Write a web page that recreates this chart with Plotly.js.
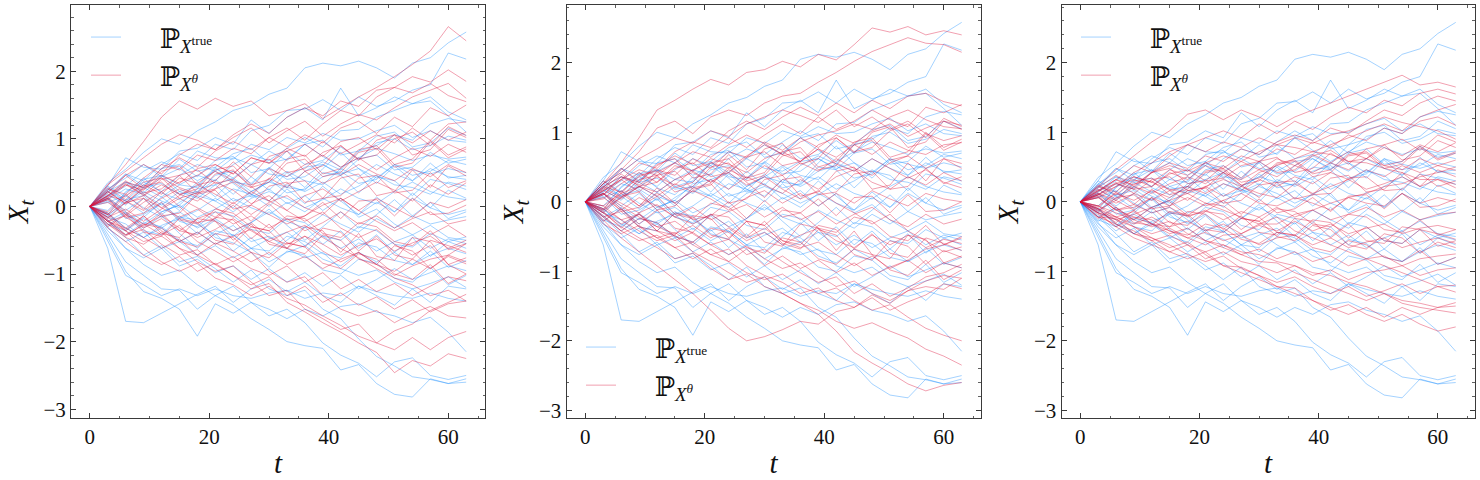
<!DOCTYPE html>
<html>
<head>
<meta charset="utf-8">
<script src="https://cdn.plot.ly/plotly-3.0.1.min.js"></script>
<style>html,body{margin:0;padding:0;background:#fff}#chart{width:1480px;height:480px}</style>
</head>
<body>
<div id="chart"></div>
<script>
// time grid (every 3rd step of the 64-step paths)
const t = [0,3,6,9,12,15,18,21,24,27,30,33,36,39,42,45,48,51,54,57,60,63];

// samples of the true process (same samples in all three panels)
const truePaths = [
[0,0.35,0.55,0.8,1.0,0.92,1.12,1.25,1.42,1.5,1.66,1.75,2.05,2.12,2.08,2.15,2.05,1.9,2.12,2.2,2.42,2.58],
[0,0.2,0.48,0.38,0.62,0.78,0.68,0.92,0.84,1.12,1.2,1.42,1.44,1.58,1.42,1.62,1.48,1.56,1.72,1.8,2.27,2.18],
[0,0.3,0.72,0.58,0.55,0.82,0.86,1.02,0.92,1.28,1.08,1.32,1.46,1.28,1.75,1.34,1.46,1.62,1.52,1.62,1.4,1.28],
[0,0.15,0.3,0.52,0.66,0.56,0.82,0.72,0.7,0.92,0.84,1.02,0.94,1.08,0.98,1.0,1.12,1.2,1.02,1.12,0.98,0.95],
[0,-0.12,0.22,0.36,0.22,0.46,0.62,0.52,0.72,0.62,0.82,0.68,0.92,0.74,0.58,0.72,0.86,0.78,0.68,0.76,0.7,0.73],
[0,0.22,0.08,0.32,0.46,0.32,0.28,0.56,0.42,0.62,0.48,0.44,0.58,0.62,0.48,0.56,0.42,0.62,0.54,0.48,0.56,0.5],
[0,0.1,0.26,0.18,0.02,0.22,0.12,0.32,0.42,0.22,0.36,0.52,0.38,0.32,0.56,0.44,0.62,0.48,0.38,0.56,0.44,0.4],
[0,-0.16,0.06,0.22,0.08,-0.02,0.16,0.08,0.26,0.18,0.08,0.32,0.22,0.36,0.18,0.3,0.46,0.32,0.28,0.18,0.36,0.3],
[0,0.12,-0.06,0.12,-0.12,0.06,0.22,0.08,-0.08,0.12,0.22,0.12,-0.02,0.1,0.26,0.12,0.04,0.22,0.36,0.22,0.14,0.1],
[0,-0.22,-0.08,-0.26,-0.08,0.02,-0.16,-0.04,0.12,-0.02,-0.12,0.06,-0.08,0.12,-0.02,-0.12,0.06,-0.08,0.12,-0.02,-0.12,-0.05],
[0,-0.26,-0.36,-0.18,-0.32,-0.14,-0.32,-0.18,-0.36,-0.24,-0.08,-0.22,-0.32,-0.12,-0.26,-0.38,-0.18,-0.32,-0.14,-0.26,-0.2,-0.15],
[0,-0.1,-0.32,-0.46,-0.32,-0.52,-0.38,-0.56,-0.42,-0.62,-0.48,-0.38,-0.58,-0.44,-0.62,-0.48,-0.66,-0.52,-0.42,-0.62,-0.48,-0.55],
[0,-0.32,-0.52,-0.38,-0.62,-0.52,-0.72,-0.58,-0.76,-0.62,-0.82,-0.68,-0.58,-0.78,-0.88,-0.68,-0.82,-0.68,-0.86,-0.72,-0.62,-0.7],
[0,-0.36,-0.62,-0.76,-0.62,-0.88,-0.78,-0.98,-0.88,-1.08,-0.92,-1.12,-0.98,-1.18,-1.02,-1.22,-1.08,-0.92,-1.08,-0.98,-0.88,-0.95],
[0,-0.52,-1.02,-1.16,-1.32,-1.22,-1.32,-1.22,-1.32,-1.36,-1.28,-1.24,-1.36,-1.28,-1.32,-1.18,-1.26,-1.32,-1.36,-1.28,-1.36,-1.4],
[0,-0.62,-1.7,-1.72,-1.58,-1.44,-1.3,-1.18,-1.42,-1.22,-1.08,-1.26,-1.12,-1.32,-1.42,-1.18,-1.32,-1.46,-1.22,-1.42,-1.18,-1.22],
[0,-0.46,-0.96,-1.26,-1.36,-1.52,-1.92,-1.44,-1.58,-1.42,-1.52,-1.66,-1.52,-1.62,-1.48,-1.44,-1.56,-1.62,-1.72,-1.64,-1.86,-2.15],
[0,-0.42,-0.82,-1.02,-1.22,-1.24,-1.52,-1.32,-1.46,-1.66,-1.82,-2.0,-2.06,-2.1,-2.42,-2.34,-2.62,-2.78,-2.82,-2.55,-2.62,-2.6],
[0,-0.3,-0.62,-0.86,-1.02,-0.94,-1.16,-1.32,-1.18,-1.42,-1.62,-1.52,-1.72,-2.02,-2.2,-2.32,-2.52,-2.3,-2.24,-2.5,-2.56,-2.5],
[0,-0.22,-0.46,-0.72,-0.58,-0.82,-0.74,-0.92,-1.12,-0.94,-1.22,-1.32,-1.24,-1.52,-1.66,-1.96,-2.22,-2.36,-2.52,-2.56,-2.62,-2.55],
[0,0.06,0.16,-0.02,-0.16,-0.08,-0.26,-0.42,-0.28,-0.52,-0.44,-0.62,-0.76,-0.68,-0.92,-1.02,-0.94,-1.12,-1.22,-1.14,-1.04,-1.2],
[0,0.26,0.42,0.62,0.44,0.56,0.38,0.52,0.34,0.14,0.26,0.04,0.16,-0.06,0.12,-0.16,-0.04,-0.26,-0.42,-0.28,-0.46,-0.5],
[0,-0.16,-0.26,-0.46,-0.28,-0.18,-0.06,0.12,-0.02,0.22,0.36,0.28,0.52,0.66,0.54,0.82,0.9,1.06,0.98,1.22,1.3,1.25],
[0,0.22,0.36,0.28,0.14,0.32,0.46,0.38,0.62,0.76,0.68,0.86,1.02,0.88,1.12,1.14,1.32,1.42,1.52,1.56,1.34,1.1],
[0,0.18,0.02,0.28,0.34,0.18,0.22,0.46,0.52,0.34,0.58,0.4,0.44,0.62,0.46,0.7,0.76,0.54,0.58,0.8,0.64,0.7],
[0,-0.14,0.1,0.16,-0.08,0.02,0.26,0.32,0.08,0.16,0.4,0.2,0.26,0.44,0.52,0.34,0.4,0.62,0.46,0.52,0.68,0.62],
[0,0.24,0.48,0.3,0.56,0.62,0.44,0.68,0.74,0.5,0.56,0.82,0.62,0.68,0.88,0.7,0.94,1.0,0.84,0.9,1.04,0.98],
[0,-0.2,-0.42,-0.24,-0.3,-0.5,-0.58,-0.36,-0.42,-0.62,-0.66,-0.44,-0.52,-0.7,-0.76,-0.54,-0.6,-0.8,-0.86,-0.66,-0.9,-0.8],
[0,0.08,-0.18,-0.12,0.04,-0.22,-0.3,-0.08,-0.14,-0.34,-0.4,-0.18,-0.24,-0.44,-0.5,-0.3,-0.36,-0.56,-0.6,-0.4,-0.52,-0.45],
[0,0.3,0.14,0.4,0.46,0.22,0.3,0.58,0.36,0.32,0.56,0.28,0.24,0.5,0.46,0.2,0.44,0.38,0.16,0.4,0.34,0.25],
[0,-0.28,-0.1,-0.36,-0.42,-0.16,-0.2,-0.46,-0.54,-0.68,-0.9,-0.66,-0.72,-0.94,-1.0,-0.78,-0.84,-1.06,-1.12,-0.9,-1.16,-1.02],
[0,0.14,0.36,0.2,0.44,0.7,0.52,0.58,0.78,0.86,0.64,0.7,0.92,0.98,0.76,0.82,1.04,1.1,0.88,0.94,1.16,1.05],
[0,-0.06,0.2,0.42,0.2,0.1,0.36,0.14,0.4,0.18,0.0,0.26,0.04,0.3,0.08,-0.12,0.14,-0.08,0.2,-0.02,0.24,0.12],
[0,0.12,-0.1,-0.32,-0.14,-0.4,-0.62,-0.4,-0.66,-0.46,-0.72,-0.5,-0.3,-0.56,-0.36,-0.62,-0.42,-0.68,-0.46,-0.74,-0.52,-0.62],
[0,0.26,0.08,-0.1,0.14,-0.06,0.2,0.4,0.18,0.44,0.24,0.5,0.28,0.56,0.8,0.56,0.34,0.6,0.38,0.64,0.42,0.46],
[0,-0.1,-0.34,-0.16,0.06,-0.18,-0.4,-0.2,-0.44,-0.24,-0.04,-0.28,-0.5,-0.3,-0.08,-0.32,-0.12,0.1,-0.14,0.06,-0.18,-0.08]
];

// samples of the learned model, panel 1
const modelPaths1 = [
[0,0.32,0.62,0.96,1.32,1.56,1.44,1.6,1.48,1.56,1.34,1.42,1.52,1.3,1.46,1.62,1.76,1.92,2.1,2.3,2.66,2.45],
[0,0.2,0.46,0.62,0.48,0.76,0.92,0.84,1.06,1.22,1.08,1.32,1.46,1.34,1.56,1.48,1.72,1.76,1.92,1.84,2.02,1.85],
[0,0.16,0.36,0.28,0.56,0.72,0.58,0.82,0.96,0.84,1.02,1.16,0.98,1.22,1.42,1.34,1.62,1.76,1.68,1.82,1.64,1.55],
[0,0.26,0.18,0.42,0.62,0.54,0.76,0.68,0.86,0.78,1.02,0.88,1.06,0.94,1.16,1.26,1.08,1.32,1.18,1.46,1.34,1.5],
[0,0.1,0.32,0.24,0.46,0.34,0.56,0.62,0.48,0.72,0.64,0.86,0.74,0.96,0.78,0.92,1.06,0.94,1.16,0.98,1.22,1.25],
[0,-0.12,0.16,0.32,0.18,0.42,0.34,0.52,0.38,0.28,0.56,0.44,0.62,0.76,0.58,0.72,0.54,0.72,0.86,0.74,0.92,0.8],
[0,0.22,0.04,0.16,0.32,0.18,0.08,0.26,0.36,0.18,0.42,0.28,0.52,0.34,0.46,0.62,0.48,0.38,0.56,0.44,0.62,0.5],
[0,0.06,-0.12,0.12,-0.02,0.16,0.32,0.18,0.04,0.22,0.08,-0.06,0.16,0.26,0.08,0.22,0.36,0.24,0.08,0.32,0.18,0.35],
[0,-0.16,-0.04,-0.22,-0.04,0.12,-0.02,-0.16,0.06,-0.12,0.06,0.16,-0.02,-0.12,0.12,-0.06,0.12,-0.02,-0.16,0.06,-0.02,0.1],
[0,0.12,-0.16,-0.32,-0.18,-0.36,-0.18,-0.08,-0.26,-0.14,-0.32,-0.18,-0.36,-0.24,-0.08,-0.26,-0.14,-0.32,-0.18,-0.08,-0.26,-0.2],
[0,-0.22,-0.32,-0.14,-0.36,-0.52,-0.38,-0.56,-0.44,-0.34,-0.52,-0.62,-0.44,-0.56,-0.72,-0.58,-0.48,-0.66,-0.54,-0.44,-0.62,-0.5],
[0,-0.26,-0.46,-0.56,-0.38,-0.62,-0.72,-0.54,-0.66,-0.82,-0.68,-0.86,-0.74,-0.92,-0.78,-0.68,-0.86,-0.96,-0.78,-0.92,-0.74,-0.85],
[0,-0.1,-0.32,-0.46,-0.62,-0.48,-0.72,-0.86,-0.74,-0.92,-1.02,-0.88,-1.12,-0.98,-1.22,-1.08,-1.26,-1.14,-1.32,-1.18,-1.04,-1.1],
[0,-0.32,-0.52,-0.72,-0.86,-0.74,-0.96,-0.84,-1.02,-1.16,-1.04,-1.32,-1.18,-1.42,-1.28,-1.46,-1.34,-1.52,-1.38,-1.56,-1.44,-1.4],
[0,-0.2,-0.42,-0.34,-0.56,-0.72,-0.64,-0.86,-1.02,-1.22,-1.14,-1.42,-1.56,-1.72,-1.86,-2.02,-2.16,-2.46,-2.28,-2.36,-2.18,-2.25],
[0,-0.16,-0.36,-0.52,-0.44,-0.62,-0.82,-0.96,-0.88,-1.12,-1.32,-1.24,-1.52,-1.66,-1.82,-1.74,-2.02,-2.12,-1.94,-2.12,-1.94,-1.85],
[0,0.12,-0.12,-0.26,-0.42,-0.28,-0.52,-0.66,-0.82,-0.68,-0.96,-1.12,-1.04,-1.32,-1.52,-1.62,-1.54,-1.72,-1.58,-1.48,-1.62,-1.65],
[0,-0.22,-0.36,-0.62,-0.82,-0.96,-0.84,-1.06,-1.16,-1.32,-1.18,-1.36,-1.46,-1.62,-1.76,-1.92,-2.02,-1.84,-1.74,-1.54,-1.42,-1.3],
[0,0.16,0.32,0.18,-0.02,-0.16,-0.04,-0.22,-0.36,-0.24,-0.46,-0.56,-0.44,-0.66,-0.82,-0.68,-0.86,-1.02,-0.88,-0.78,-0.72,-0.55],
[0,-0.12,0.06,0.26,0.42,0.28,0.18,0.36,0.24,0.04,0.16,-0.06,-0.22,-0.08,-0.32,-0.46,-0.34,-0.56,-0.72,-0.58,-0.86,-1.0],
[0,0.32,0.52,0.72,0.92,1.06,0.98,0.84,1.02,1.16,0.94,1.12,1.26,1.04,1.22,1.36,1.28,1.46,1.62,1.72,1.82,1.6],
[0,-0.22,-0.14,0.06,0.22,0.36,0.46,0.62,0.48,0.72,0.64,0.82,0.92,0.74,0.96,1.02,0.84,1.06,0.94,1.12,0.98,1.1],
[0,0.16,0.08,-0.06,0.12,0.26,0.14,-0.02,-0.16,0.02,-0.12,-0.26,-0.14,0.02,0.12,-0.06,-0.22,-0.36,-0.24,-0.42,-0.28,-0.45],
[0,-0.26,-0.42,-0.28,-0.14,-0.32,-0.46,-0.34,-0.18,-0.36,-0.52,-0.38,-0.28,-0.46,-0.62,-0.76,-0.92,-1.06,-1.16,-1.32,-1.24,-1.4],
[0,0.22,0.04,0.3,0.36,0.12,0.2,0.48,0.54,0.28,0.36,0.64,0.7,0.44,0.5,0.8,0.86,0.58,0.64,0.96,0.72,0.85],
[0,-0.18,0.06,0.12,-0.14,-0.1,0.18,0.24,-0.04,0.02,0.3,0.36,0.06,0.12,0.42,0.48,0.16,0.22,0.54,0.28,0.6,0.45],
[0,0.16,0.38,0.2,0.26,0.46,0.54,0.34,0.4,0.62,0.7,0.5,0.56,0.8,0.9,0.7,0.76,1.0,1.1,0.9,1.18,1.05],
[0,-0.22,-0.44,-0.26,-0.32,-0.52,-0.6,-0.4,-0.46,-0.68,-0.76,-0.54,-0.6,-0.84,-0.92,-0.7,-0.78,-1.0,-1.08,-0.86,-1.14,-1.0],
[0,0.1,-0.16,-0.1,0.06,-0.2,-0.26,-0.04,-0.1,-0.3,-0.36,-0.14,-0.18,-0.4,-0.46,-0.24,-0.3,-0.52,-0.58,-0.36,-0.64,-0.55],
[0,0.28,0.1,0.36,0.42,0.18,0.26,0.54,0.6,0.32,0.4,0.7,0.76,0.48,0.56,0.84,0.9,0.62,0.7,0.98,0.76,0.88],
[0,-0.3,-0.12,-0.38,-0.44,-0.18,-0.24,-0.5,-0.56,-0.3,-0.36,-0.62,-0.7,-0.42,-0.5,-0.78,-0.86,-0.58,-0.66,-0.92,-0.72,-0.82],
[0,0.12,0.34,0.16,0.4,0.46,0.2,0.26,0.52,0.3,0.08,0.34,0.38,0.12,0.16,0.42,0.46,0.2,0.24,0.5,0.28,0.38],
[0,-0.08,0.18,-0.04,0.22,0.0,-0.24,-0.18,0.02,-0.22,0.04,-0.2,-0.14,0.06,-0.18,0.08,0.1,-0.14,0.12,-0.12,-0.1,0.02],
[0,0.14,-0.08,-0.3,-0.1,-0.36,-0.42,-0.16,-0.2,-0.48,-0.26,-0.54,-0.6,-0.32,-0.38,-0.66,-0.44,-0.72,-0.78,-0.5,-0.58,-0.68],
[0,0.24,0.46,0.26,0.52,0.6,0.32,0.38,0.66,0.44,0.74,0.82,0.52,0.6,0.9,0.68,0.98,1.06,0.76,0.84,1.14,1.02],
[0,-0.12,-0.36,-0.14,-0.4,-0.46,-0.18,-0.22,-0.5,-0.26,-0.56,-0.62,-0.3,-0.36,-0.68,-0.4,-0.74,-0.8,-0.46,-0.52,-0.86,-0.76]
];

// samples of the learned model, panel 2
const modelPaths2 = [
[0,0.26,0.56,0.92,1.32,1.46,1.62,1.76,1.68,1.86,1.9,2.02,1.94,2.12,2.04,2.26,2.5,2.44,2.52,2.4,2.46,2.4],
[0,0.2,0.46,0.72,1.06,1.16,0.98,1.22,1.32,1.24,1.42,1.52,1.56,1.72,1.86,2.02,2.16,2.26,2.36,2.28,2.26,2.15],
[0,0.16,0.32,0.56,0.48,0.72,0.86,0.78,1.02,1.16,1.04,1.22,1.36,1.24,1.42,1.28,1.46,1.34,1.52,1.56,1.44,1.38],
[0,0.1,0.36,0.28,0.52,0.66,0.54,0.76,0.92,0.78,0.96,1.12,0.98,1.22,1.04,1.16,1.32,1.18,1.08,1.36,1.28,1.4],
[0,0.22,0.14,0.36,0.46,0.38,0.62,0.48,0.72,0.64,0.86,0.74,0.92,0.78,0.96,0.84,1.02,1.12,0.94,1.06,1.16,1.1],
[0,0.04,0.26,0.42,0.28,0.52,0.44,0.62,0.54,0.42,0.62,0.72,0.58,0.76,0.64,0.82,0.68,0.86,0.74,0.68,0.82,0.85],
[0,-0.12,0.12,0.22,0.14,0.32,0.42,0.28,0.46,0.34,0.52,0.38,0.56,0.44,0.62,0.48,0.38,0.56,0.66,0.48,0.62,0.55],
[0,0.16,0.04,0.22,0.08,0.26,0.14,0.32,0.18,0.36,0.24,0.12,0.32,0.18,0.36,0.46,0.28,0.18,0.36,0.24,0.42,0.3],
[0,-0.06,0.12,-0.06,0.12,-0.02,0.16,0.04,-0.12,0.06,0.16,-0.02,0.12,-0.06,0.12,-0.02,0.16,0.04,-0.06,0.12,0.04,0.0],
[0,0.12,-0.02,-0.16,-0.04,-0.22,-0.08,-0.26,-0.14,-0.04,-0.22,-0.08,-0.26,-0.14,-0.32,-0.18,-0.08,-0.26,-0.36,-0.18,-0.32,-0.25],
[0,-0.16,-0.32,-0.18,-0.36,-0.46,-0.34,-0.52,-0.38,-0.56,-0.44,-0.62,-0.48,-0.38,-0.56,-0.66,-0.48,-0.62,-0.48,-0.66,-0.54,-0.6],
[0,-0.22,-0.42,-0.56,-0.48,-0.66,-0.58,-0.76,-0.86,-0.68,-0.92,-0.78,-0.96,-0.84,-1.02,-0.88,-1.06,-0.94,-0.84,-1.02,-0.88,-0.95],
[0,-0.26,-0.52,-0.72,-0.92,-1.12,-1.32,-1.56,-1.82,-2.0,-1.94,-1.84,-1.72,-1.76,-1.58,-1.52,-1.34,-1.46,-1.28,-1.22,-1.26,-1.1],
[0,-0.16,-0.36,-0.52,-0.66,-0.82,-0.74,-0.96,-1.12,-1.04,-1.22,-1.32,-1.46,-1.62,-1.86,-2.16,-2.32,-2.46,-2.62,-2.72,-2.64,-2.6],
[0,-0.1,-0.26,-0.42,-0.56,-0.48,-0.72,-0.86,-1.02,-1.16,-1.08,-1.32,-1.46,-1.56,-1.72,-1.82,-1.74,-1.86,-1.96,-2.12,-2.22,-2.35],
[0,-0.22,-0.14,-0.36,-0.52,-0.44,-0.62,-0.76,-0.68,-0.92,-1.06,-1.16,-1.32,-1.24,-1.42,-1.52,-1.38,-1.56,-1.44,-1.34,-1.18,-1.25],
[0,0.12,-0.06,-0.22,-0.36,-0.28,-0.46,-0.62,-0.54,-0.76,-0.68,-0.86,-1.02,-1.16,-1.08,-1.32,-1.18,-1.36,-1.24,-1.08,-1.02,-0.9],
[0,-0.06,-0.26,-0.18,-0.42,-0.56,-0.44,-0.62,-0.76,-0.64,-0.82,-0.96,-0.88,-1.06,-1.22,-1.14,-1.32,-1.42,-1.28,-1.14,-1.06,-1.1],
[0,0.22,0.36,0.24,0.42,0.56,0.44,0.28,0.42,0.24,0.36,0.18,0.04,0.16,-0.02,-0.16,-0.32,-0.18,-0.42,-0.56,-0.72,-0.65],
[0,0.26,0.42,0.62,0.76,0.92,0.84,1.02,0.94,1.12,1.22,1.32,1.24,1.14,1.32,1.08,1.22,1.04,1.16,0.98,0.88,0.95],
[0,-0.12,0.06,0.22,0.36,0.24,0.46,0.56,0.48,0.66,0.82,0.68,0.86,0.96,1.02,1.12,1.04,1.22,1.32,1.18,1.08,1.05],
[0,0.06,-0.12,0.06,-0.06,-0.22,-0.32,-0.18,-0.36,-0.52,-0.38,-0.56,-0.66,-0.58,-0.76,-0.92,-0.78,-0.96,-0.84,-0.68,-0.62,-0.5],
[0,0.16,0.32,0.46,0.38,0.56,0.72,0.64,0.82,0.96,0.84,0.68,0.58,0.76,0.54,0.44,0.62,0.48,0.34,0.46,0.28,0.2],
[0,-0.32,-0.46,-0.34,-0.52,-0.66,-0.82,-0.68,-0.86,-1.02,-1.12,-1.04,-1.22,-1.32,-1.24,-1.42,-1.56,-1.48,-1.66,-1.82,-1.92,-2.0],
[0,0.2,0.06,0.32,0.38,0.14,0.22,0.5,0.56,0.3,0.38,0.66,0.72,0.46,0.52,0.82,0.88,0.6,0.66,0.98,0.74,0.86],
[0,-0.16,0.08,0.14,-0.12,-0.06,0.2,0.26,-0.02,0.04,0.32,0.38,0.08,0.14,0.44,0.5,0.18,0.24,0.56,0.3,0.62,0.48],
[0,0.18,0.4,0.22,0.28,0.48,0.56,0.36,0.42,0.64,0.72,0.52,0.58,0.82,0.92,0.72,0.78,1.02,1.12,0.92,1.2,1.08],
[0,-0.2,-0.42,-0.24,-0.3,-0.5,-0.58,-0.38,-0.44,-0.66,-0.74,-0.52,-0.58,-0.82,-0.9,-0.68,-0.76,-0.98,-1.06,-0.84,-1.12,-0.98],
[0,0.12,-0.14,-0.08,0.08,-0.18,-0.24,-0.02,-0.08,-0.28,-0.34,-0.12,-0.16,-0.38,-0.44,-0.22,-0.28,-0.5,-0.56,-0.34,-0.62,-0.52],
[0,0.3,0.12,0.38,0.44,0.2,0.28,0.56,0.62,0.34,0.42,0.72,0.78,0.5,0.58,0.86,0.92,0.64,0.72,1.0,0.78,0.9],
[0,-0.28,-0.1,-0.36,-0.42,-0.16,-0.22,-0.48,-0.54,-0.28,-0.34,-0.6,-0.68,-0.4,-0.48,-0.76,-0.84,-0.56,-0.64,-0.9,-0.7,-0.8],
[0,0.1,0.32,0.14,0.38,0.44,0.18,0.24,0.5,0.28,0.06,0.32,0.36,0.1,0.14,0.4,0.44,0.18,0.22,0.48,0.26,0.36],
[0,-0.1,0.16,-0.06,0.2,-0.02,-0.26,-0.2,0.0,-0.24,0.02,-0.22,-0.16,0.04,-0.2,0.06,0.08,-0.16,0.1,-0.14,-0.12,0.0],
[0,0.12,-0.1,-0.32,-0.12,-0.38,-0.44,-0.18,-0.22,-0.5,-0.28,-0.56,-0.62,-0.34,-0.4,-0.68,-0.46,-0.74,-0.8,-0.52,-0.6,-0.7],
[0,0.26,0.48,0.28,0.54,0.62,0.34,0.4,0.68,0.46,0.76,0.84,0.54,0.62,0.92,0.7,1.0,1.08,0.78,0.86,1.16,1.04],
[0,-0.14,-0.38,-0.16,-0.42,-0.48,-0.2,-0.24,-0.52,-0.28,-0.58,-0.64,-0.32,-0.38,-0.7,-0.42,-0.76,-0.82,-0.48,-0.54,-0.88,-0.78]
];

// samples of the learned model, panel 3
const modelPaths3 = [
[0,0.22,0.46,0.66,0.86,1.02,1.26,1.32,1.18,1.32,1.22,1.08,1.22,1.32,1.42,1.52,1.62,1.72,1.82,1.68,1.72,1.65],
[0,0.16,0.32,0.52,0.42,0.66,0.82,0.92,1.02,0.92,1.12,0.98,1.16,1.04,1.22,1.36,1.28,1.46,1.38,1.56,1.62,1.55],
[0,0.1,0.26,0.18,0.42,0.56,0.48,0.66,0.58,0.76,0.68,0.86,0.96,0.88,1.06,0.98,1.16,1.32,1.24,1.42,1.52,1.45],
[0,0.22,0.14,0.36,0.28,0.46,0.38,0.56,0.48,0.66,0.58,0.76,0.68,0.86,0.78,0.96,0.88,1.06,0.98,1.16,1.22,1.1],
[0,0.06,0.22,0.32,0.22,0.42,0.32,0.52,0.42,0.58,0.46,0.62,0.52,0.68,0.56,0.72,0.62,0.78,0.66,0.82,0.72,0.85],
[0,0.12,0.02,0.22,0.12,0.26,0.36,0.26,0.42,0.32,0.46,0.36,0.52,0.42,0.56,0.46,0.62,0.52,0.46,0.62,0.52,0.6],
[0,-0.06,0.12,0.02,0.16,0.06,0.22,0.12,0.26,0.16,0.32,0.22,0.36,0.26,0.42,0.32,0.46,0.36,0.52,0.42,0.52,0.45],
[0,0.12,-0.02,0.12,0.02,0.16,0.02,0.22,0.08,0.22,0.12,0.06,0.26,0.12,0.22,0.32,0.18,0.26,0.36,0.22,0.32,0.2],
[0,-0.12,0.02,-0.12,0.06,-0.06,0.06,-0.06,0.02,0.12,-0.02,-0.06,0.06,-0.02,-0.12,0.06,-0.02,-0.06,0.12,-0.02,0.06,0.0],
[0,0.06,-0.12,-0.04,-0.16,-0.08,-0.22,-0.12,-0.26,-0.14,-0.22,-0.08,-0.22,-0.12,-0.26,-0.18,-0.08,-0.22,-0.12,-0.26,-0.18,-0.15],
[0,-0.16,-0.22,-0.32,-0.22,-0.36,-0.28,-0.42,-0.32,-0.46,-0.34,-0.42,-0.28,-0.42,-0.32,-0.46,-0.38,-0.32,-0.46,-0.38,-0.34,-0.4],
[0,-0.1,-0.26,-0.36,-0.46,-0.38,-0.52,-0.44,-0.56,-0.48,-0.62,-0.52,-0.48,-0.62,-0.52,-0.66,-0.58,-0.52,-0.66,-0.58,-0.52,-0.6],
[0,-0.22,-0.32,-0.46,-0.56,-0.48,-0.62,-0.72,-0.62,-0.76,-0.68,-0.82,-0.72,-0.86,-0.78,-0.92,-0.82,-0.78,-0.92,-0.82,-0.78,-0.75],
[0,-0.16,-0.36,-0.52,-0.62,-0.72,-0.62,-0.82,-0.72,-0.86,-0.92,-1.02,-0.92,-1.06,-0.98,-1.12,-1.02,-0.98,-0.92,-1.06,-0.98,-0.95],
[0,-0.06,-0.22,-0.36,-0.52,-0.62,-0.76,-0.86,-0.78,-0.96,-1.06,-1.16,-1.08,-1.22,-1.32,-1.22,-1.36,-1.28,-1.18,-1.32,-1.22,-1.2],
[0,-0.1,-0.32,-0.42,-0.56,-0.72,-0.82,-0.72,-0.92,-1.02,-1.12,-1.22,-1.32,-1.42,-1.52,-1.62,-1.52,-1.66,-1.52,-1.62,-1.52,-1.5],
[0,-0.22,-0.24,-0.46,-0.52,-0.66,-0.58,-0.76,-0.92,-0.94,-1.06,-1.22,-1.24,-1.42,-1.56,-1.48,-1.62,-1.72,-1.62,-1.76,-1.86,-1.8],
[0,0.06,-0.12,-0.22,-0.32,-0.46,-0.38,-0.56,-0.66,-0.76,-0.86,-0.88,-1.02,-1.12,-1.22,-1.32,-1.42,-1.32,-1.46,-1.52,-1.56,-1.6],
[0,0.16,0.26,0.36,0.28,0.18,0.12,-0.02,-0.12,-0.22,-0.32,-0.22,-0.42,-0.52,-0.62,-0.72,-0.82,-0.92,-1.02,-1.12,-1.22,-1.3],
[0,-0.16,-0.26,-0.18,-0.08,0.02,0.12,0.22,0.32,0.22,0.42,0.52,0.62,0.72,0.82,0.92,1.02,1.12,1.02,1.22,1.32,1.4],
[0,0.1,0.22,0.42,0.56,0.72,0.82,0.72,0.86,0.78,0.92,0.82,0.78,0.72,0.68,0.58,0.56,0.48,0.42,0.32,0.32,0.25],
[0,-0.1,-0.22,-0.14,-0.32,-0.42,-0.52,-0.62,-0.48,-0.46,-0.32,-0.32,-0.18,-0.12,-0.02,0.06,0.12,0.22,0.26,0.36,0.42,0.5],
[0,0.16,0.32,0.24,0.42,0.52,0.44,0.56,0.66,0.58,0.72,0.82,0.92,0.84,0.96,1.02,1.12,1.22,1.14,1.08,1.02,0.9],
[0,-0.06,-0.16,-0.26,-0.36,-0.28,-0.46,-0.56,-0.62,-0.72,-0.76,-0.86,-0.92,-1.02,-1.06,-1.16,-1.22,-1.32,-1.42,-1.46,-1.52,-1.45],
[0,0.18,0.04,0.26,0.3,0.1,0.18,0.42,0.46,0.24,0.3,0.54,0.58,0.36,0.42,0.66,0.7,0.48,0.54,0.78,0.6,0.7],
[0,-0.14,0.06,0.1,-0.1,-0.06,0.16,0.2,-0.02,0.02,0.24,0.28,0.04,0.1,0.34,0.38,0.14,0.18,0.42,0.22,0.46,0.36],
[0,0.14,0.32,0.18,0.22,0.4,0.46,0.3,0.34,0.52,0.58,0.42,0.46,0.66,0.74,0.58,0.62,0.82,0.9,0.74,0.96,0.86],
[0,-0.18,-0.36,-0.22,-0.26,-0.42,-0.48,-0.32,-0.38,-0.54,-0.6,-0.44,-0.48,-0.66,-0.72,-0.56,-0.62,-0.8,-0.86,-0.7,-0.9,-0.8],
[0,0.08,-0.12,-0.08,0.06,-0.16,-0.2,-0.02,-0.06,-0.24,-0.28,-0.1,-0.14,-0.32,-0.36,-0.18,-0.22,-0.4,-0.44,-0.26,-0.48,-0.4],
[0,0.24,0.1,0.3,0.34,0.16,0.22,0.44,0.48,0.28,0.34,0.56,0.6,0.4,0.46,0.68,0.72,0.52,0.58,0.8,0.62,0.72],
[0,-0.24,-0.08,-0.3,-0.34,-0.14,-0.18,-0.4,-0.44,-0.24,-0.28,-0.5,-0.56,-0.34,-0.4,-0.62,-0.68,-0.46,-0.52,-0.74,-0.58,-0.66],
[0,0.1,0.28,0.12,0.32,0.36,0.16,0.2,0.42,0.24,0.06,0.28,0.3,0.1,0.12,0.34,0.36,0.16,0.18,0.4,0.22,0.3],
[0,-0.08,0.14,-0.04,0.18,0.0,-0.2,-0.14,0.02,-0.18,0.04,-0.16,-0.1,0.06,-0.14,0.08,0.1,-0.1,0.12,-0.08,-0.06,0.04],
[0,0.1,-0.08,-0.26,-0.08,-0.3,-0.34,-0.14,-0.18,-0.4,-0.22,-0.44,-0.48,-0.26,-0.3,-0.52,-0.36,-0.56,-0.6,-0.4,-0.46,-0.54],
[0,0.2,0.38,0.22,0.42,0.48,0.26,0.3,0.52,0.34,0.58,0.64,0.42,0.48,0.7,0.54,0.76,0.82,0.6,0.66,0.88,0.78],
[0,-0.12,-0.3,-0.12,-0.32,-0.36,-0.14,-0.18,-0.4,-0.2,-0.44,-0.48,-0.24,-0.28,-0.52,-0.32,-0.56,-0.6,-0.36,-0.4,-0.64,-0.56]
];

const yRanges = [[-3.13, 2.98], [-3.11, 2.83], [-3.11, 2.83]];
const PAD = '\u00a0\u00a0\u00a0\u00a0\u00a0';
const legendNames = [PAD + 'ℙ<sub><i>X</i><sup>true</sup></sub>', PAD + 'ℙ<sub><i>X</i><sup><i>θ</i></sup></sub>'];

const SERIF = '"Liberation Serif", "DejaVu Serif", serif';
const BLUE = 'rgba(30,144,255,0.45)';
const RED = 'rgba(220,20,60,0.45)';
const modelSets = [modelPaths1, modelPaths2, modelPaths3];
const legendIds = ['legend', 'legend2', 'legend3'];

const traces = [];
for (let p = 0; p < 3; p++) {
  const xa = p === 0 ? 'x' : 'x' + (p + 1);
  const ya = p === 0 ? 'y' : 'y' + (p + 1);
  truePaths.forEach((path, i) => {
    traces.push({x: t, y: path, xaxis: xa, yaxis: ya, type: 'scatter', mode: 'lines',
      line: {color: BLUE, width: 0.9}, name: legendNames[0], legendgroup: 'true' + p,
      showlegend: i === 0, legend: legendIds[p], hoverinfo: 'skip'});
  });
  modelSets[p].forEach((path, i) => {
    traces.push({x: t, y: path, xaxis: xa, yaxis: ya, type: 'scatter', mode: 'lines',
      line: {color: RED, width: 0.9}, name: legendNames[1], legendgroup: 'model' + p,
      showlegend: i === 0, legend: legendIds[p], hoverinfo: 'skip'});
  });
}

const W = 1480, H = 480;
const plotX = [[71, 485], [566.5, 980.5], [1061.5, 1474.5]];
const plotTop = 5, plotBottom = 418;
const AX = '#3a3a3a';
function xAxis(p) {
  return {
    domain: [plotX[p][0] / W, plotX[p][1] / W], anchor: p === 0 ? 'y' : 'y' + (p + 1),
    range: [-3.15, 66.15], tick0: 0, dtick: 20, ticks: 'inside', ticklen: 5, tickwidth: 1, tickcolor: AX,
    showline: true, linecolor: AX, linewidth: 1, mirror: 'allticks', showgrid: false, zeroline: false,
    tickfont: {family: SERIF, size: 21, color: '#111'},
    minor: {ticks: 'inside', ticklen: 2.5, tickwidth: 0.8, tickcolor: AX, dtick: 5, tick0: 0, showgrid: false},
    title: {text: '<i>t</i>', font: {family: SERIF, size: 29, color: '#111'}, standoff: 4}
  };
}
function yAxis(p) {
  return {
    domain: [(H - plotBottom) / H, (H - plotTop) / H], anchor: p === 0 ? 'x' : 'x' + (p + 1),
    range: yRanges[p], tick0: 0, dtick: 1, ticks: 'inside', ticklen: 5, tickwidth: 1, tickcolor: AX,
    showline: true, linecolor: AX, linewidth: 1, mirror: 'allticks', showgrid: false, zeroline: false,
    tickfont: {family: SERIF, size: 21, color: '#111'},
    minor: {ticks: 'inside', ticklen: 2.5, tickwidth: 0.8, tickcolor: AX, dtick: 0.2, tick0: 0, showgrid: false},
    title: {text: '<i>X</i><sub><i>t</i></sub>', font: {family: SERIF, size: 29, color: '#111'}, standoff: 6}
  };
}
function legendAt(px, py) {
  return {x: px / W, y: 1 - py / H, xanchor: 'left', yanchor: 'top', bgcolor: 'rgba(255,255,255,0)',
    borderwidth: 0, font: {family: SERIF, size: 27, color: '#111'}, tracegroupgap: 0, itemwidth: 30};
}

const layout = {
  width: W, height: H, margin: {l: 0, r: 0, t: 0, b: 0}, paper_bgcolor: '#fff', plot_bgcolor: '#fff',
  showlegend: true,
  xaxis: xAxis(0), yaxis: yAxis(0), xaxis2: xAxis(1), yaxis2: yAxis(1), xaxis3: xAxis(2), yaxis3: yAxis(2),
  legend: legendAt(86, 13), legend2: legendAt(581, 323), legend3: legendAt(1076, 13)
};

Plotly.newPlot('chart', traces, layout, {staticPlot: true, displayModeBar: false});
</script>
</body>
</html>
